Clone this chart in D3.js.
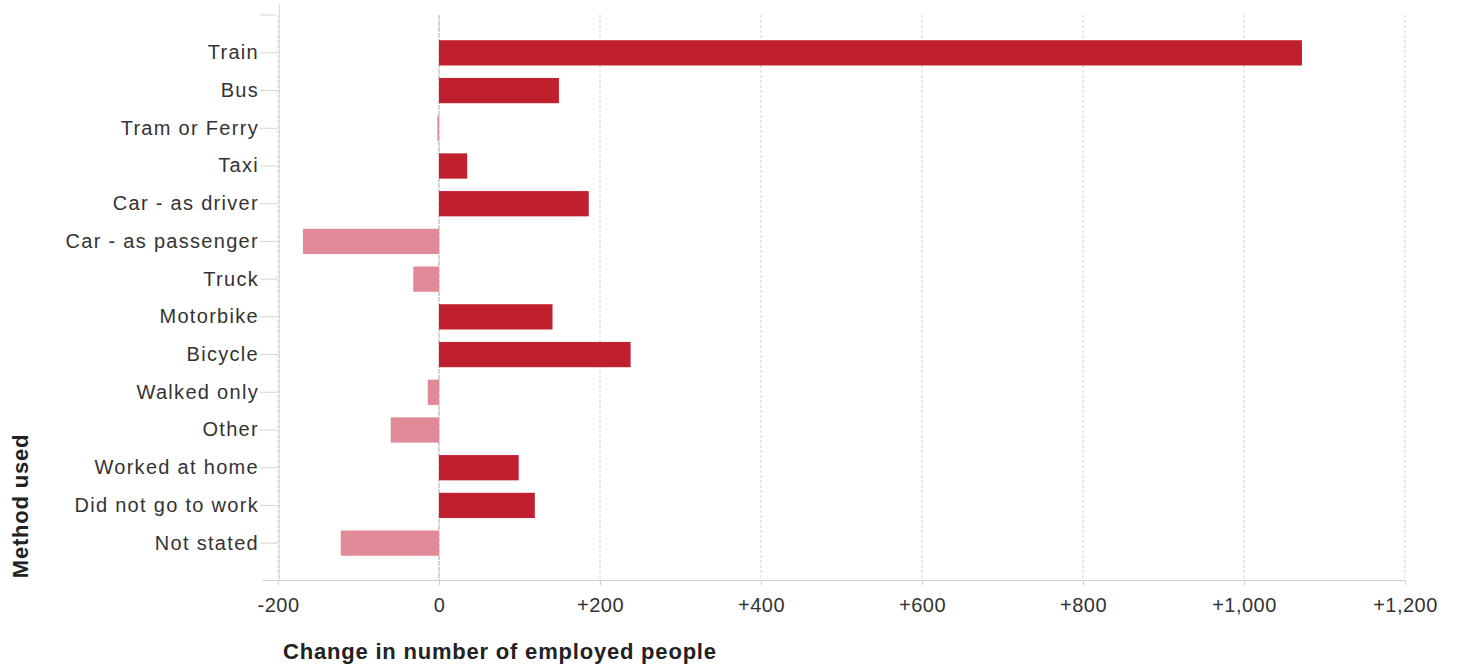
<!DOCTYPE html>
<html><head><meta charset="utf-8">
<script src="https://cdn.jsdelivr.net/npm/d3@7"></script>
<style>body{margin:0;background:#fff;} svg{display:block;font-family:"Liberation Sans",Arial,sans-serif;}</style>
</head><body>
<svg id="c" width="1457" height="665"></svg>
<script>
const categories = ["Train","Bus","Tram or Ferry","Taxi","Car - as driver","Car - as passenger","Truck","Motorbike","Bicycle","Walked only","Other","Worked at home","Did not go to work","Not stated"];
const values = [1072,149,-2,35,186,-169,-32,141,238,-14,-60,99,119,-122];
const xTicks = [-200,0,200,400,600,800,1000,1200];
const xTickLabels = ["-200","0","+200","+400","+600","+800","+1,000","+1,200"];

const svg = d3.select("#c");
const mLeft = 278, mRight = 1405, mTop = 15, mBottom = 580;
const x = d3.scaleLinear().domain([-200,1200]).range([278,1405]);
const y = d3.scaleBand().domain(categories).range([34,562]).paddingInner(0.33).paddingOuter(0.165);

// gridlines
svg.append("g").selectAll("line").data(xTicks.filter(d=>d!==0)).join("line")
  .attr("x1",d=>x(d)).attr("x2",d=>x(d)).attr("y1",mTop).attr("y2",mBottom)
  .attr("stroke","#cfcfcf").attr("stroke-dasharray","3,2");
// left frame
svg.append("line").attr("x1",279.5).attr("x2",279.5).attr("y1",mTop-10).attr("y2",mBottom).attr("stroke","#d8d8d8");
// zero line
svg.append("line").attr("x1",x(0)).attr("x2",x(0)).attr("y1",mTop).attr("y2",mBottom).attr("stroke","#a8a8a8").attr("stroke-dasharray","5,1");

// bars
svg.append("g").selectAll("rect").data(categories).join("rect")
  .attr("x",(d,i)=>x(Math.min(0,values[i])))
  .attr("width",(d,i)=>Math.max(1,Math.abs(x(values[i])-x(0))))
  .attr("y",d=>y(d)).attr("height",y.bandwidth())
  .attr("fill",(d,i)=>values[i]>=0?"#C01F2D":"#E38A98");

// x axis
const xa = svg.append("g").attr("transform",`translate(0,${mBottom})`)
  .call(d3.axisBottom(x).tickValues(xTicks).tickFormat((d,i)=>xTickLabels[i]).tickSize(5).tickPadding(13));
xa.select(".domain").attr("d",`M262,0.5H${mRight}`).attr("stroke","#d0d0d0");
xa.selectAll(".tick line").attr("stroke","#d0d0d0");
xa.selectAll("text").attr("font-size",20).attr("letter-spacing","0.5px").attr("fill","#333").attr("font-family","Liberation Sans, Arial, sans-serif");

// y axis
const ya = svg.append("g").attr("transform",`translate(${mLeft},0)`)
  .call(d3.axisLeft(y).tickSize(18).tickPadding(1));
ya.select(".domain").remove();
ya.selectAll(".tick line").attr("stroke","#d4d4d4");
ya.selectAll("text").attr("font-size",20).attr("letter-spacing","1.3px").attr("fill","#333").attr("font-family","Liberation Sans, Arial, sans-serif");
svg.append("line").attr("x1",260).attr("x2",276).attr("y1",mTop).attr("y2",mTop).attr("stroke","#d4d4d4");

// titles
svg.append("text").attr("x",283).attr("y",659).attr("font-size",22).attr("letter-spacing","0.8px").attr("font-weight","bold").attr("fill","#222")
  .text("Change in number of employed people");
svg.append("text").attr("transform","translate(28,506) rotate(-90)").attr("text-anchor","middle")
  .attr("font-size",22).attr("letter-spacing","0.8px").attr("font-weight","bold").attr("fill","#222").text("Method used");
</script>
</body></html>
